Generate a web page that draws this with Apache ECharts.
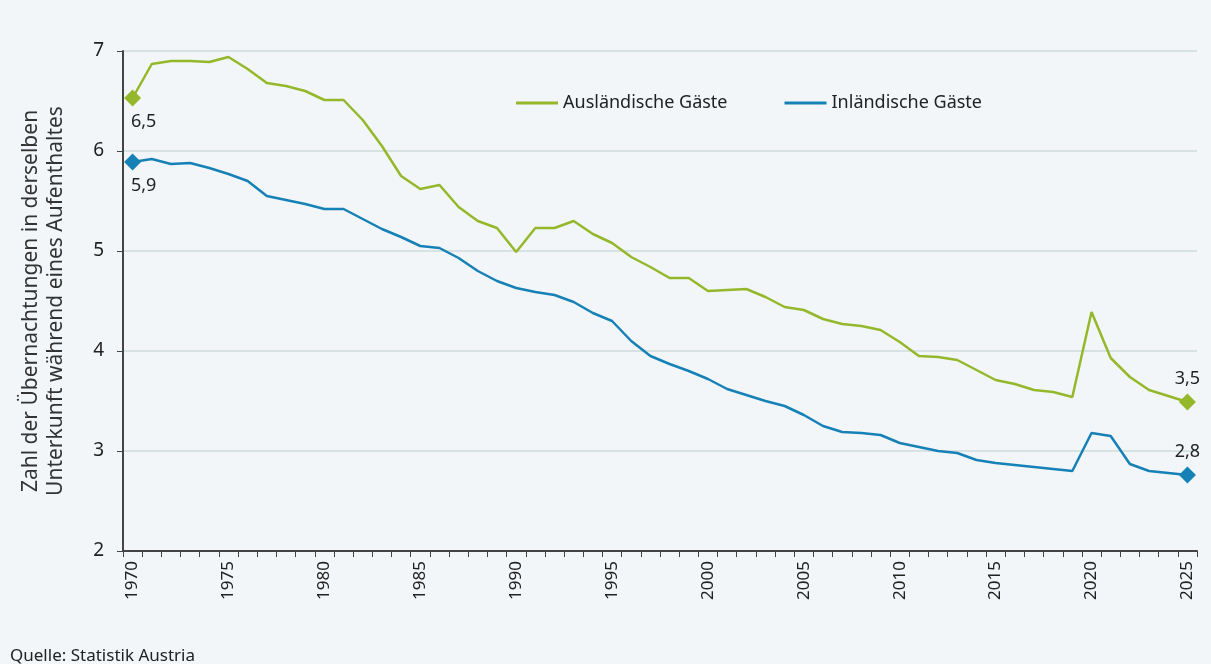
<!DOCTYPE html>
<html style="height: 100%">
<head>
	<meta charset="utf-8">
	<title></title>
	<script type="text/javascript" src="https://cdn.jsdelivr.net/npm/echarts@6/dist/echarts.min.js"></script>
	<script type="text/javascript">
		var years = [];
		for (var y = 1970; y <= 2025; y++) years.push(String(y));

		var auslaender = [
			6.53, 6.87, 6.90, 6.90, 6.89, 6.94, 6.82, 6.68, 6.65, 6.60,
			6.51, 6.51, 6.31, 6.05, 5.75, 5.62, 5.66, 5.44, 5.30, 5.23,
			4.99, 5.23, 5.23, 5.30, 5.17, 5.08, 4.94, 4.84, 4.73, 4.73,
			4.60, 4.61, 4.62, 4.54, 4.44, 4.41, 4.32, 4.27, 4.25, 4.21,
			4.09, 3.95, 3.94, 3.91, 3.81, 3.71, 3.67, 3.61, 3.59, 3.54,
			4.39, 3.93, 3.74, 3.61, 3.55, 3.49
		];
		var inlaender = [
			5.89, 5.92, 5.87, 5.88, 5.83, 5.77, 5.70, 5.55, 5.51, 5.47,
			5.42, 5.42, 5.32, 5.22, 5.14, 5.05, 5.03, 4.93, 4.80, 4.70,
			4.63, 4.59, 4.56, 4.49, 4.38, 4.30, 4.10, 3.95, 3.87, 3.80,
			3.72, 3.62, 3.56, 3.50, 3.45, 3.36, 3.25, 3.19, 3.18, 3.16,
			3.08, 3.04, 3.00, 2.98, 2.91, 2.88, 2.86, 2.84, 2.82, 2.80,
			3.18, 3.15, 2.87, 2.80, 2.78, 2.76
		];

		var green = '#95b82a';
		var blue = '#1581b6';
		var font = 'Noto Sans';

		// nur erster und letzter Punkt mit Raute und Beschriftung
		function withEnds(values) {
			return values.map(function (v, i) {
				var first = i === 0;
				if (first || i === values.length - 1) {
					return {
						value: v,
						symbol: 'diamond',
						symbolSize: 17,
						label: {
							show: true,
							position: first ? 'bottom' : 'top',
							offset: first ? [11, 0] : [0, 0],
							distance: 6,
							formatter: function (p) { return p.value.toFixed(1).replace('.', ','); },
							color: '#222',
							fontSize: 18,
							fontFamily: font
						}
					};
				}
				return v;
			});
		}

		window.onload = function () {
			var dom = document.getElementById('container');
			var myChart = echarts.init(dom);
			var option = {
				backgroundColor: '#f2f6f8',
				animation: false,
				textStyle: { fontFamily: font },
				legend: {
					left: 511,
					top: 89,
					itemGap: 57,
					itemWidth: 42,
					itemHeight: 3,
					icon: 'rect',
					textStyle: { fontSize: 18, color: '#222', fontFamily: font },
					data: ['Ausländische Gäste', 'Inländische Gäste']
				},
				grid: { left: 123, right: 14, top: 51, bottom: 113 },
				xAxis: {
					type: 'category',
					data: years,
					boundaryGap: true,
					axisLine: { lineStyle: { color: '#444', width: 2 } },
					axisTick: { show: true, interval: 0, length: 6, lineStyle: { color: '#444', width: 1 } },
					axisLabel: {
						interval: 4,
						rotate: 90,
						fontSize: 17,
						color: '#222',
						margin: 10,
						fontFamily: font
					},
					splitLine: { show: false }
				},
				yAxis: {
					type: 'value',
					min: 2,
					max: 7,
					interval: 1,
					name: 'Zahl der Übernachtungen in derselben\nUnterkunft während eines Aufenthaltes',
					nameLocation: 'middle',
					nameRotate: 90,
					nameGap: 54,
					nameTextStyle: { fontSize: 21, color: '#333', lineHeight: 25, fontFamily: font },
					axisLine: { show: true, lineStyle: { color: '#444', width: 2 } },
					axisTick: { show: true, length: 6, lineStyle: { color: '#444' } },
					axisLabel: { fontSize: 19, color: '#222', margin: 19, fontFamily: font },
					splitLine: { lineStyle: { color: '#d7e2e2', width: 2 } }
				},
				series: [
					{
						name: 'Ausländische Gäste',
						type: 'line',
						symbol: 'none',
						color: green,
						lineStyle: { width: 2.5 },
						data: withEnds(auslaender),
						z: 3
					},
					{
						name: 'Inländische Gäste',
						type: 'line',
						symbol: 'none',
						color: blue,
						lineStyle: { width: 2.5 },
						data: withEnds(inlaender),
						z: 3
					}
				],
				graphic: [
					{
						type: 'text',
						left: 10,
						top: 648,
						style: { text: 'Quelle: Statistik Austria', fontSize: 17, fill: '#222', fontFamily: font }
					}
				]
			};
			myChart.setOption(option);
		};
	</script>
</head>
<body style="height: 100%; margin: 0">
<div id="container" style="width: 1211px; height: 664px"></div>
</body>
</html>
